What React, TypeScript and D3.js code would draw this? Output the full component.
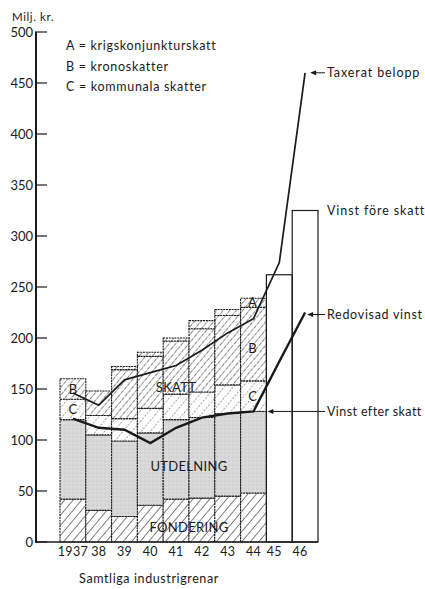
import { useEffect } from "react";
import * as d3 from "d3";

// years on the x axis, the last two have only the total ("Vinst före skatt")
const YEARS = [1937, 1938, 1939, 1940, 1941, 1942, 1943, 1944, 1945, 1946];
const YEAR_LABELS = ["1937", "38", "39", "40", "41", "42", "43", "44", "45", "46"];

// stacked parts 1937-44, milj. kr.
const FONDERING = [42, 31, 25, 36, 42, 43, 45, 48];
const UTDELNING = [78, 74, 74, 71, 78, 79, 81, 80];
const KOMMUNALA = [20, 19, 22, 24, 25, 25, 28, 30]; // C
const KRONO = [20, 24, 48, 51, 52, 62, 68, 72]; // B
const KRIG = [0, 0, 3, 4, 3, 8, 6, 9]; // A

const VINST_FORE = [262, 325]; // 1945, 1946
const TAXERAT = [146, 134, 159, 166, 173, 188, 205, 219, 274, 460];
const REDOVISAD = [121, 112, 110, 97, 112, 122, 126, 128, 177, 225];

const Y_TICKS = [0, 50, 100, 150, 200, 250, 300, 350, 400, 450, 500];

const LEGEND = ["A = krigskonjunkturskatt", "B = kronoskatter", "C = kommunala skatter"];

const FONT = "Lato, 'DejaVu Sans', sans-serif";
const INK = "#1a1a1a";

const KEYS = ["fond", "utd", "c", "b", "a"];
const FILLS: Record<string, string> = {
  fond: "url(#hFond)",
  utd: "url(#dotUtd)",
  c: "url(#hC)",
  b: "url(#hB)",
  a: "url(#hB)",
};

export default function App() {
  useEffect(() => {
    document.body.style.margin = "0";
  }, []);

  const W = 425;
  const H = 589;

  const x = d3.scaleBand<number>().domain(YEARS).range([60, 318]).padding(0);
  const y = d3.scaleLinear().domain([0, 500]).range([542, 32]);
  const cx = (yr: number) => x(yr)! + x.bandwidth() / 2;

  const rows = FONDERING.map((_, i) => ({
    year: YEARS[i],
    fond: FONDERING[i],
    utd: UTDELNING[i],
    c: KOMMUNALA[i],
    b: KRONO[i],
    a: KRIG[i],
  }));
  const stacked = d3.stack<any>().keys(KEYS)(rows);

  const line = d3
    .line<number>()
    .x((_, i) => cx(YEARS[i]))
    .y((d) => y(d));

  const last = YEARS[YEARS.length - 1];
  const utdTop44 = FONDERING[7] + UTDELNING[7];
  const arrow = (x0: number, yy: number, x1: number) => (
    <g>
      <line x1={x0 + 4} y1={yy} x2={x1} y2={yy} stroke={INK} strokeWidth={1} />
      <path d={`M${x0},${yy}L${x0 + 6},${yy - 2.5}L${x0 + 6},${yy + 2.5}Z`} fill={INK} />
    </g>
  );

  return (
    <svg width={W} height={H} style={{ display: "block", background: "#fff" }} fontFamily={FONT}>
      <defs>
        <pattern id="hFond" width="6.5" height="6.5" patternUnits="userSpaceOnUse" patternTransform="rotate(40)">
          <rect width="6.5" height="6.5" fill="#fff" />
          <line x1="0" y1="0" x2="0" y2="6.5" stroke={INK} strokeWidth="1.1" />
        </pattern>
        <pattern id="hB" width="5" height="5" patternUnits="userSpaceOnUse" patternTransform="rotate(40)">
          <rect width="5" height="5" fill="#fff" />
          <line x1="0" y1="0" x2="0" y2="5" stroke={INK} strokeWidth="1.05" strokeDasharray="3.5 1" />
        </pattern>
        <pattern id="hC" width="7" height="7" patternUnits="userSpaceOnUse" patternTransform="rotate(40)">
          <rect width="7" height="7" fill="#fff" />
          <line x1="0" y1="0" x2="0" y2="7" stroke="#333" strokeWidth="0.9" strokeDasharray="2 1.5" />
        </pattern>
        <pattern id="dotUtd" width="4" height="4" patternUnits="userSpaceOnUse">
          <rect width="4" height="4" fill="#d8d8d8" />
          <circle cx="1" cy="1" r="0.6" fill="#c0c0c0" />
          <circle cx="3" cy="3" r="0.5" fill="#e8e8e8" />
        </pattern>
      </defs>

      {/* stacked bars 1937-44 */}
      {stacked.map((layer) => (
        <g key={layer.key}>
          {layer.map((d, i) =>
            d[1] - d[0] > 0 ? (
              <rect
                key={i}
                x={x(YEARS[i])}
                y={y(d[1])}
                width={x.bandwidth()}
                height={y(d[0]) - y(d[1])}
                fill={FILLS[layer.key]}
                stroke={INK}
                strokeWidth={1.1}
                strokeDasharray="2 0.8"
              />
            ) : null
          )}
        </g>
      ))}

      {/* 1945-46 totals only */}
      {VINST_FORE.map((v, i) => (
        <rect
          key={i}
          x={x(YEARS[8 + i])}
          y={y(v)}
          width={x.bandwidth()}
          height={y(0) - y(v)}
          fill="none"
          stroke={INK}
          strokeWidth={1.2}
        />
      ))}

      {/* lines */}
      <path d={line(TAXERAT)!} fill="none" stroke={INK} strokeWidth={1.7} />
      <path d={line(REDOVISAD)!} fill="none" stroke={INK} strokeWidth={2.4} />

      {/* axes */}
      <line x1={36} y1={y(500)} x2={36} y2={y(0)} stroke={INK} strokeWidth={2} />
      <line x1={35} y1={y(0)} x2={318} y2={y(0)} stroke={INK} strokeWidth={1.6} />
      {Y_TICKS.map((t) => (
        <g key={t}>
          <line x1={35} y1={y(t)} x2={47} y2={y(t)} stroke={INK} strokeWidth={1.2} />
          <text x={33} y={y(t) + 4.5} textAnchor="end" fontSize={13} fill={INK}>
            {t}
          </text>
        </g>
      ))}
      {YEARS.map((yr, i) => (
        <text key={yr} x={cx(yr) - (i >= 8 ? 5 : 0)} y={556} textAnchor="middle" fontSize={12.5} fill={INK} letterSpacing={0.3}>
          {YEAR_LABELS[i]}
        </text>
      ))}
      <text x={12} y={21} fontSize={11.5} fill={INK} letterSpacing={0.6}>
        Milj. kr.
      </text>
      <text x={149} y={583} textAnchor="middle" fontSize={12.5} fill={INK} letterSpacing={0.6}>
        Samtliga industrigrenar
      </text>

      {/* legend */}
      {LEGEND.map((s, i) => (
        <text key={s} x={66} y={50 + i * 20.5} fontSize={12.5} fill={INK} letterSpacing={0.7}>
          {s}
        </text>
      ))}

      {/* labels inside bars */}
      <g fontSize={13} fill={INK} textAnchor="middle">
        <text x={cx(1937)} y={y(FONDERING[0] + UTDELNING[0] + KOMMUNALA[0] + KRONO[0] / 2) + 5}>B</text>
        <text x={cx(1937)} y={y(FONDERING[0] + UTDELNING[0] + KOMMUNALA[0] / 2) + 5}>C</text>
        <text x={cx(1944) - 1} y={y(235) + 5}>A</text>
        <text x={cx(1944) - 1} y={y(190) + 5}>B</text>
        <text x={cx(1944) - 1} y={y(143) + 5}>C</text>
        <text x={176} y={y(152) + 5} letterSpacing={0.3}>SKATT</text>
        <text x={189} y={y(75) + 5} letterSpacing={0.3}>UTDELNING</text>
        <text x={189} y={y(15) + 5} letterSpacing={0.3}>FONDERING</text>
      </g>

      {/* right-hand annotations */}
      <g fontSize={12.5} fill={INK} letterSpacing={0.9}>
        {arrow(cx(last) + 5, y(TAXERAT[9]), 325)}
        <text x={327} y={y(TAXERAT[9]) + 4.5}>Taxerat belopp</text>
        <text x={327} y={y(VINST_FORE[1]) + 4}>Vinst före skatt</text>
        {arrow(cx(last) + 2, y(REDOVISAD[9]) + 2, 325)}
        <text x={327} y={y(REDOVISAD[9]) + 6.5} letterSpacing={0.7}>Redovisad vinst</text>
        {arrow(x(1944)! + x.bandwidth() + 1, y(utdTop44), 325)}
        <text x={327} y={y(utdTop44) + 4.5} letterSpacing={0.4}>Vinst efter skatt</text>
      </g>
    </svg>
  );
}
